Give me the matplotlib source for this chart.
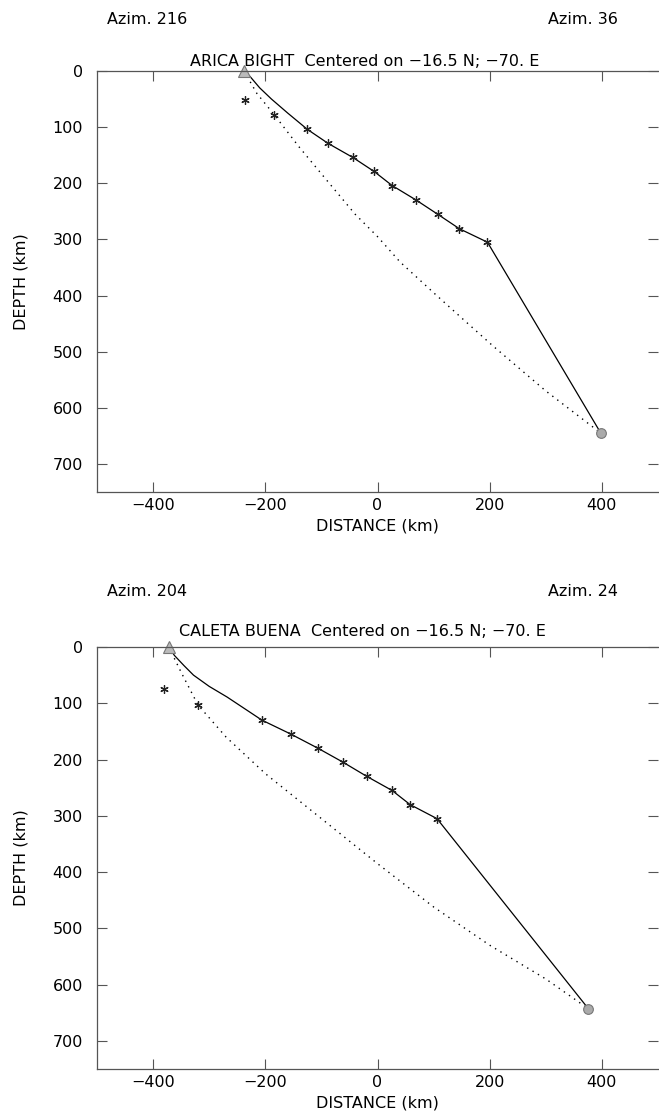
import numpy as np
import matplotlib.pyplot as plt

plt.rcParams['font.family'] = ['DejaVu Sans']

# ---- ARICA BIGHT ----
arica_src = (-238, 0)
arica_end = (398, 645)
arica_solid_x = [-238, -227, -210, -189, -160, -125, -88, -44, -6, 26, 69, 107, 146, 196, 398]
arica_solid_z = [0, 10, 30, 50, 75, 104, 129, 154, 179, 204, 230, 255, 281, 305, 645]
arica_dot_x = [-238, -215, -184, -140, -91, -40, 0, 40, 100, 150, 206, 300, 398]
arica_dot_z = [0, 40, 78, 135, 194, 255, 295, 340, 395, 440, 490, 570, 645]
arica_star_x = [-236, -184, -125, -88, -44, -6, 26, 69, 107, 146, 196]
arica_star_z = [52, 78, 104, 129, 154, 179, 204, 230, 255, 281, 305]

# ---- CALETA BUENA ----
caleta_src = (-372, 0)
caleta_end = (376, 643)
caleta_solid_x = [-372, -362, -345, -328, -300, -268, -206, -154, -106, -61, -19, 26, 58, 106, 376]
caleta_solid_z = [0, 15, 33, 50, 70, 89, 130, 155, 180, 205, 230, 255, 280, 305, 643]
caleta_dot_x = [-372, -350, -320, -270, -200, -100, 0, 100, 200, 300, 376]
caleta_dot_z = [0, 45, 103, 160, 225, 305, 385, 462, 530, 590, 643]
caleta_star_x = [-380, -320, -206, -154, -106, -61, -19, 26, 58, 106]
caleta_star_z = [75, 103, 130, 155, 180, 205, 230, 255, 280, 305]

panels = [
    dict(name='ARICA BIGHT', az_l='Azim. 216', az_r='Azim. 36',
         src=arica_src, end=arica_end,
         sx=arica_solid_x, sz=arica_solid_z, dx=arica_dot_x, dz=arica_dot_z,
         stx=arica_star_x, stz=arica_star_z,
         top=71, bot=492, az_y=20, ti_y=61, ti_x=365),
    dict(name='CALETA BUENA', az_l='Azim. 204', az_r='Azim. 24',
         src=caleta_src, end=caleta_end,
         sx=caleta_solid_x, sz=caleta_solid_z, dx=caleta_dot_x, dz=caleta_dot_z,
         stx=caleta_star_x, stz=caleta_star_z,
         top=647, bot=1069, az_y=592, ti_y=631, ti_x=362),
]

W, H = 659, 1118
fig = plt.figure(figsize=(W / 100, H / 100), dpi=100)
spine_col = '#555555'
fs = 11.5

for p in panels:
    ax = fig.add_axes([97 / W, 1 - p['bot'] / H, 561 / W, (p['bot'] - p['top']) / H])
    ax.plot(p['sx'], p['sz'], color='black', lw=0.9)
    ax.plot(p['dx'], p['dz'], color='black', lw=1.0, linestyle=(0, (1, 3.5)))
    ax.plot(p['stx'], p['stz'], linestyle='none', marker=(6, 2, 0), ms=6,
            mec='#222222', mew=0.9)
    ax.plot(*p['src'], marker='^', ms=8, mfc='#bbbbbb', mec='#777777', mew=0.8,
            clip_on=False)
    ax.plot(*p['end'], marker='o', ms=7, mfc='#aaaaaa', mec='#777777', mew=0.8)

    ax.set_xlim(-500, 500)
    ax.set_ylim(750, 0)
    ax.set_xticks([-400, -200, 0, 200, 400])
    ax.set_yticks([0, 100, 200, 300, 400, 500, 600, 700])
    ax.tick_params(axis='x', direction='in', top=True, bottom=True, length=7,
                   width=0.8, color=spine_col, labelsize=fs, pad=4)
    ax.tick_params(axis='y', direction='in', left=True, right=True, length=7,
                   width=0.8, color=spine_col, labelsize=fs, pad=10)
    for s in ax.spines.values():
        s.set_color(spine_col)
        s.set_linewidth(0.9)
    ax.spines['right'].set_visible(False)
    ax.set_xlabel('DISTANCE (km)', fontsize=fs, labelpad=4)
    ax.set_ylabel('DEPTH (km)', fontsize=fs, labelpad=17)

    fig.text(107 / W, 1 - p['az_y'] / H, p['az_l'], fontsize=fs, va='center', ha='left')
    fig.text(618 / W, 1 - p['az_y'] / H, p['az_r'], fontsize=fs, va='center', ha='right')
    fig.text(p['ti_x'] / W, 1 - p['ti_y'] / H,
             p['name'] + '  Centered on \u221216.5 N; \u221270. E',
             fontsize=fs, va='center', ha='center')

fig.savefig('out.png', dpi=100)
